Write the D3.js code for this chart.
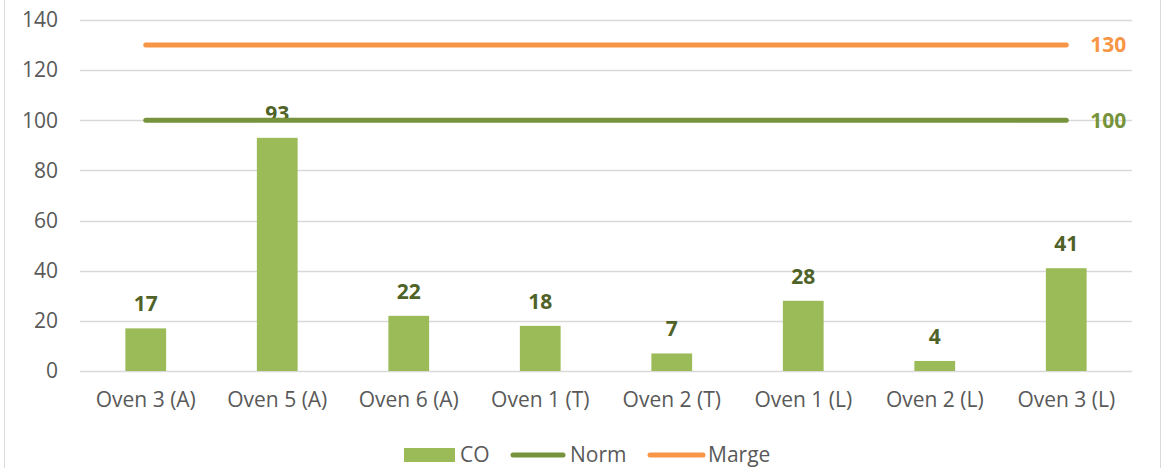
<!DOCTYPE html>
<html>
<head>
<meta charset="utf-8">
<script src="https://cdn.jsdelivr.net/npm/d3@7"></script>
<style>
  body { margin: 0; background: #fff; }
  svg { display: block; font-family: "Open Sans", sans-serif; }
</style>
</head>
<body>
<div id="chart"></div>
<script>
const categories = ["Oven 3 (A)", "Oven 5 (A)", "Oven 6 (A)", "Oven 1 (T)", "Oven 2 (T)", "Oven 1 (L)", "Oven 2 (L)", "Oven 3 (L)"]
const coValues = [17, 93, 22, 18, 7, 28, 4, 41]
const normValues = [100, 100, 100, 100, 100, 100, 100, 100]
const margeValues = [130, 130, 130, 130, 130, 130, 130, 130]
const yTicks = [0, 20, 40, 60, 80, 100, 120, 140]

const width = 1162, height = 468
const margin = {top: 20, right: 30, bottom: 97, left: 80}

const colors = {co: "#9bbb59", norm: "#77933c", marge: "#f79646", label: "#4f6228", text: "#595959", grid: "#d9d9d9"}

const svg = d3.select("#chart").append("svg")
    .attr("width", width)
    .attr("height", height)

// chart frame edges
svg.append("line").attr("x1", 4.5).attr("x2", 4.5).attr("y1", 0).attr("y2", height)
    .attr("stroke", "#d9d9d9")
svg.append("line").attr("x1", 1160.5).attr("x2", 1160.5).attr("y1", 0).attr("y2", height)
    .attr("stroke", "#d9d9d9")

const x = d3.scaleBand()
    .domain(categories)
    .range([margin.left, width - margin.right])
    .paddingInner(0.69)
    .paddingOuter(0.345)

const y = d3.scaleLinear()
    .domain([0, 140])
    .range([height - margin.bottom, margin.top])

// grid
svg.append("g").selectAll("line").data(yTicks)
    .join("line")
    .attr("x1", margin.left)
    .attr("x2", width - margin.right)
    .attr("y1", d => Math.round(y(d)) + 0.5)
    .attr("y2", d => Math.round(y(d)) + 0.5)
    .attr("stroke", colors.grid)
    .attr("stroke-width", 1.5)

// y axis
const yAxis = svg.append("g")
    .attr("transform", `translate(${margin.left - 22},0)`)
    .call(d3.axisLeft(y).tickValues(yTicks).tickSize(0).tickPadding(0))
yAxis.select(".domain").remove()
yAxis.selectAll("text")
    .attr("fill", colors.text)
    .style("font-size", "21px")
    .style("font-family", "Open Sans, sans-serif")

// x axis
const xAxis = svg.append("g")
    .attr("transform", `translate(0,${y(0)})`)
    .call(d3.axisBottom(x).tickSize(0).tickPadding(21))
xAxis.select(".domain").remove()
xAxis.selectAll("text")
    .attr("fill", colors.text)
    .style("font-size", "21px")
    .style("font-family", "Open Sans, sans-serif")

// bars
svg.append("g").selectAll("rect").data(coValues)
    .join("rect")
    .attr("x", (d, i) => x(categories[i]))
    .attr("y", d => y(d))
    .attr("width", x.bandwidth())
    .attr("height", d => y(0) - y(d))
    .attr("fill", colors.co)

svg.append("g").selectAll("text").data(coValues)
    .join("text")
    .attr("x", (d, i) => x(categories[i]) + x.bandwidth() / 2)
    .attr("y", d => y(d) - 17)
    .attr("text-anchor", "middle")
    .attr("fill", colors.label)
    .style("font-size", "21px")
    .style("font-weight", "bold")
    .text(d => d)

// lines
const cx = (d, i) => x(categories[i]) + x.bandwidth() / 2
const line = d3.line().x(cx).y(d => y(d))

const series = [
  {name: "Marge", values: margeValues, color: colors.marge},
  {name: "Norm", values: normValues, color: colors.norm}
]

series.forEach(s => {
  svg.append("path")
      .datum(s.values)
      .attr("d", line)
      .attr("fill", "none")
      .attr("stroke", s.color)
      .attr("stroke-width", 5)
      .attr("stroke-linecap", "round")

  const last = s.values.length - 1
  svg.append("text")
      .attr("x", cx(s.values[last], last) + 24)
      .attr("y", y(s.values[last]))
      .attr("dy", "0.35em")
      .attr("fill", s.color)
      .style("font-size", "21px")
      .style("font-weight", "bold")
      .text(s.values[last])
})

// legend
const legend = svg.append("g").attr("transform", "translate(0,455)")
legend.append("rect").attr("x", 404).attr("y", -7).attr("width", 51).attr("height", 14).attr("fill", colors.co)
legend.append("text").attr("x", 460).attr("dy", "0.35em").attr("fill", colors.text).style("font-size", "21px").text("CO")

const legendLines = [
  {name: "Norm", color: colors.norm, x1: 513, x2: 563, tx: 570},
  {name: "Marge", color: colors.marge, x1: 650, x2: 703, tx: 708}
]
legendLines.forEach(l => {
  legend.append("line").attr("x1", l.x1).attr("x2", l.x2).attr("y1", 0).attr("y2", 0)
      .attr("stroke", l.color).attr("stroke-width", 5).attr("stroke-linecap", "round")
  legend.append("text").attr("x", l.tx).attr("dy", "0.35em").attr("fill", colors.text)
      .style("font-size", "21px").text(l.name)
})
</script>
</body>
</html>
